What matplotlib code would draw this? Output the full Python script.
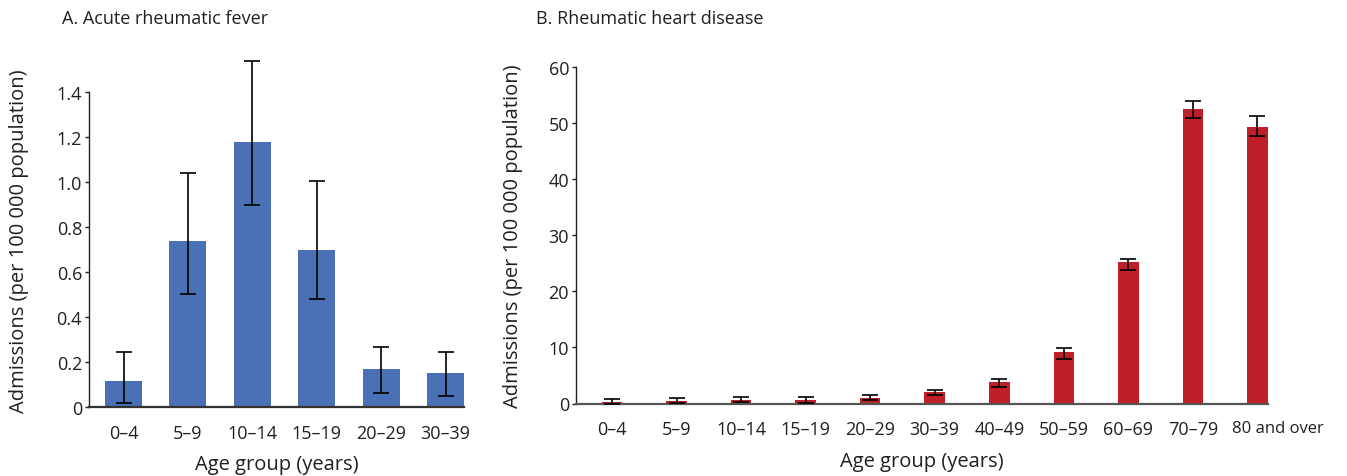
import matplotlib
matplotlib.use("Agg")
import matplotlib.pyplot as plt
from matplotlib.transforms import ScaledTranslation
import numpy as np

plt.rcParams['font.family'] = ['Open Sans', 'DejaVu Sans']

# Panel A: Acute rheumatic fever
arf_groups = ["0\u20134", "5\u20139", "10\u201314", "15\u201319", "20\u201329", "30\u201339"]
arf_rate = [0.116, 0.738, 1.178, 0.698, 0.169, 0.151]
arf_low = [0.018, 0.504, 0.896, 0.479, 0.064, 0.049]
arf_high = [0.244, 1.041, 1.535, 1.003, 0.265, 0.243]
arf_yticks = [0, 0.2, 0.4, 0.6, 0.8, 1.0, 1.2, 1.4]
arf_yticklabels = ["0", "0.2", "0.4", "0.6", "0.8", "1.0", "1.2", "1.4"]

# Panel B: Rheumatic heart disease
rhd_groups = ["0\u20134", "5\u20139", "10\u201314", "15\u201319", "20\u201329", "30\u201339",
              "40\u201349", "50\u201359", "60\u201369", "70\u201379", "80 and over"]
rhd_rate = [0.35, 0.4, 0.57, 0.62, 0.98, 2.0, 3.77, 9.22, 25.2, 52.6, 49.35]
rhd_low = [0.0, 0.03, 0.2, 0.15, 0.57, 1.5, 2.94, 7.98, 23.77, 50.9, 47.75]
rhd_high = [0.8, 0.98, 1.2, 1.2, 1.57, 2.46, 4.3, 9.88, 25.78, 53.86, 51.2]
rhd_yticks = [0, 10, 20, 30, 40, 50, 60]

BLUE = "#4A71B6"
RED = "#BE1F28"
TXT = "#231F20"
FS_TICK = 13
FS_LAB = 14.5
FS_TITLE = 13

fig = plt.figure(figsize=(13.47, 4.77), dpi=100)

def style_axes(ax, ytop):
    for s in ["top", "right"]:
        ax.spines[s].set_visible(False)
    ax.spines["left"].set_bounds(0, ytop)
    ax.spines["left"].set_linewidth(1.0)
    ax.spines["left"].set_color(TXT)
    ax.spines["bottom"].set_linewidth(1.6)
    ax.spines["bottom"].set_color("#555555")
    ax.tick_params(axis="y", direction="out", length=3, width=1.0, pad=2,
                   labelsize=FS_TICK, colors=TXT)
    ax.tick_params(axis="x", length=0, pad=12, labelsize=FS_TICK, colors=TXT)

# Panel A
axA = fig.add_axes([89/1347, 1-408/477, 375/1347, (408-59)/477])
xa = np.arange(len(arf_groups))
ea = np.array([np.array(arf_rate) - np.array(arf_low), np.array(arf_high) - np.array(arf_rate)])
axA.bar(xa, arf_rate, width=0.575, color=BLUE, zorder=2)
axA.errorbar(xa, arf_rate, yerr=ea, fmt="none", ecolor="black", elinewidth=1.2,
             capsize=6, capthick=1.2, zorder=3)
axA.set_xlim(-0.536, 5.287)
axA.set_ylim(0, 1.55)
axA.set_yticks(arf_yticks)
axA.set_yticklabels(arf_yticklabels)
axA.set_xticks(xa)
axA.set_xticklabels(arf_groups)
style_axes(axA, 1.4)
axA.spines["bottom"].set_color("#333333")
axA.set_xlabel("Age group (years)", fontsize=FS_LAB, labelpad=9, color=TXT)
axA.set_ylabel("Admissions (per 100 000 population)", fontsize=FS_LAB, labelpad=20, color=TXT)
axA.yaxis.label.set_y(0.478)
fig.text(62/1347, 1-19/477, "A. Acute rheumatic fever", fontsize=FS_TITLE, va="center",
         ha="left", color=TXT)

# Panel B
axB = fig.add_axes([576/1347, 1-404.5/477, 692/1347, (404.5-68)/477])
xb = np.arange(len(rhd_groups))
eb = np.array([np.array(rhd_rate) - np.array(rhd_low), np.array(rhd_high) - np.array(rhd_rate)])
axB.bar(xb, rhd_rate, width=0.318, color=RED, zorder=2)
axB.errorbar(xb, rhd_rate, yerr=eb, fmt="none", ecolor="black", elinewidth=1.2,
             capsize=6, capthick=1.2, zorder=3)
axB.set_xlim(-0.558, 10.163)
axB.set_ylim(0, 60)
axB.set_yticks(rhd_yticks)
axB.set_xticks(xb)
axB.set_xticklabels(rhd_groups)
style_axes(axB, 60)
last = axB.get_xticklabels()[-1]
last.set_fontsize(12)
last.set_transform(last.get_transform() + ScaledTranslation(0.2, 0, fig.dpi_scale_trans))
axB.set_xlabel("Age group (years)", fontsize=FS_LAB, labelpad=9, color=TXT)
axB.set_ylabel("Admissions (per 100 000 population)", fontsize=FS_LAB, labelpad=18, color=TXT)
fig.text(536/1347, 1-19/477, "B. Rheumatic heart disease", fontsize=FS_TITLE, va="center",
         ha="left", color=TXT)

fig.savefig("out.png", dpi=100)
